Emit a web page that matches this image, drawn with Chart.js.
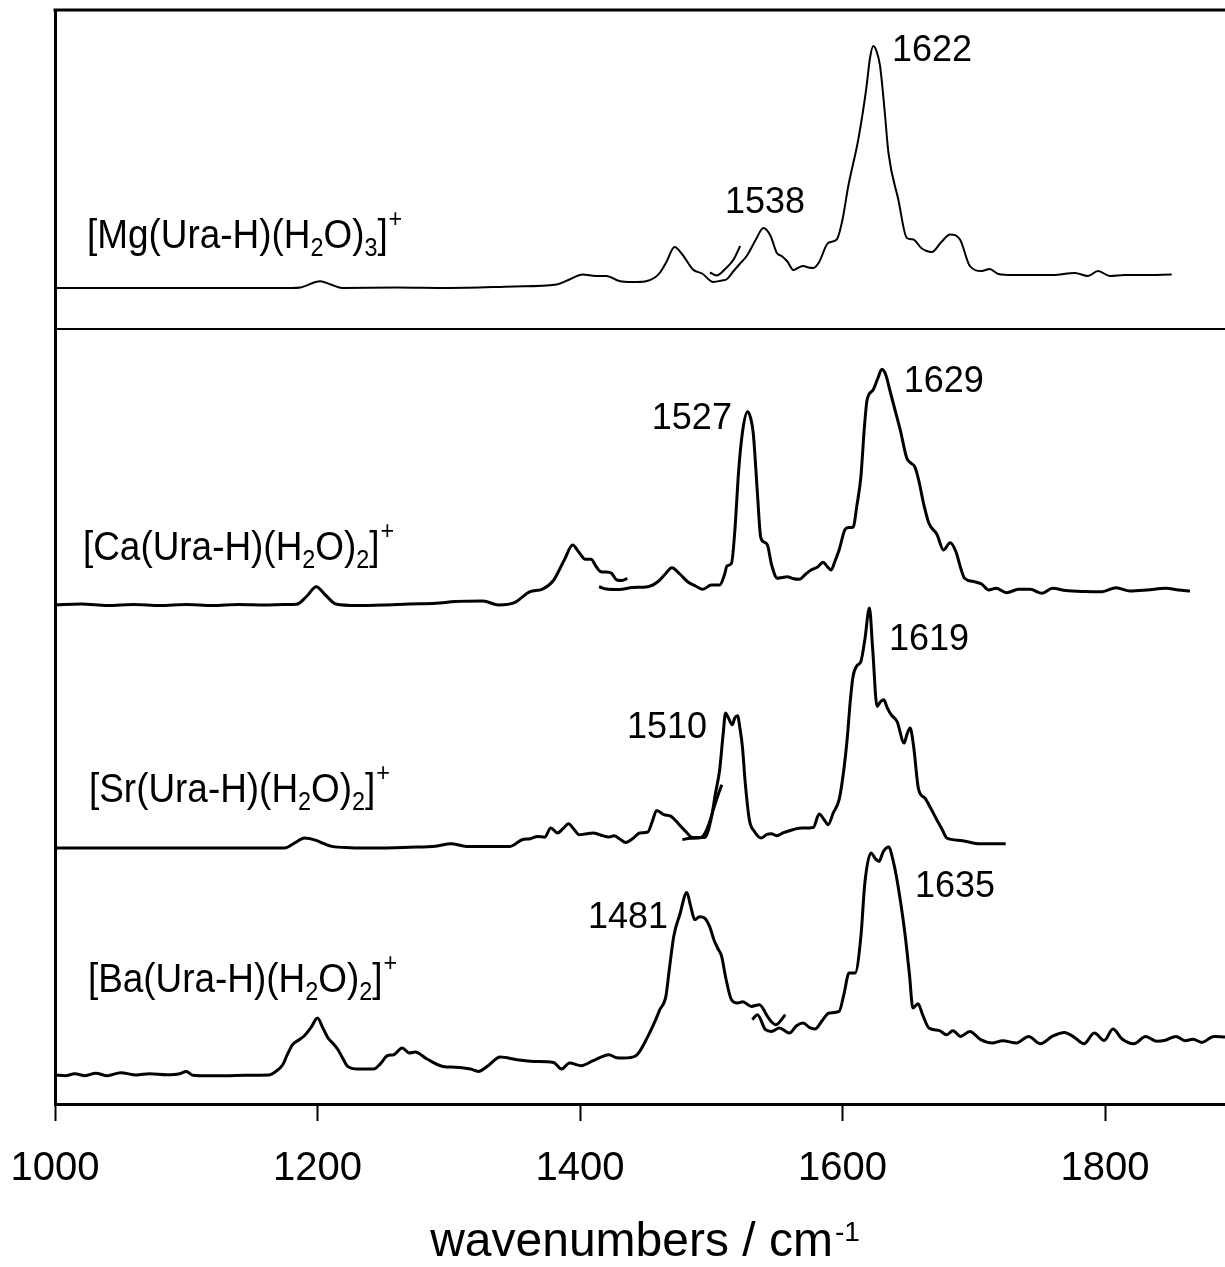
<!DOCTYPE html>
<html lang="en">
<head>
    <meta charset="UTF-8">
    <title>IRMPD spectra</title>
    <style>
        body {
            margin: 0;
            padding: 0;
            background-color: #fff;
        }
        .chart-box {
            width: 1225px;
            height: 1267px;
            position: relative;
        }
    </style>
</head>
<body>
    <div class="chart-box">
        <canvas id="spectra"></canvas>
    </div>
    <script src="https://cdn.jsdelivr.net/npm/chart.js@4.4.0/dist/chart.umd.min.js"></script>
    <script>
        // wavenumber (cm-1) and relative intensity
        const mgWn = [1000, 1100, 1180, 1187, 1202, 1210, 1219, 1260, 1300, 1350, 1382, 1392, 1402, 1412, 1420, 1430, 1440, 1449.5, 1457, 1461, 1466, 1472, 1478, 1486, 1493, 1501.6, 1508, 1512, 1517, 1522, 1527, 1534, 1539.7, 1545, 1550, 1553.6, 1558, 1562.5, 1566, 1570, 1574, 1577.7, 1582, 1589, 1595.6, 1600, 1604.4, 1612, 1618, 1621, 1623.5, 1626, 1628.6, 1632, 1635, 1642.5, 1649, 1654, 1660, 1668, 1675, 1682, 1689.5, 1697, 1706, 1712, 1718.7, 1730, 1745, 1760, 1777, 1787, 1794.6, 1803.8, 1815, 1830, 1850.8];
        const mgInt = [0, 0, 0, 0.5, 6.8, 3.5, 0, 0.5, 0, 1.5, 3.5, 8.5, 13.5, 12, 12, 7, 6, 6.5, 10.5, 15.5, 26.5, 41, 33.5, 18.5, 14.5, 6, 7.5, 9, 17, 24.5, 32, 48.5, 60, 52.5, 35, 32, 26.5, 18, 20, 22, 20.5, 20, 25.5, 45, 48.5, 68.5, 102, 148.5, 198.5, 230.5, 242, 236.5, 222, 178.5, 135, 88.5, 50, 48.5, 40, 36, 45.5, 53.5, 48.5, 22, 17, 19, 14, 13, 13, 13, 15, 12, 17, 12, 13, 13, 13.5];
        const mgWn2 = [1499, 1504, 1511, 1517, 1522];
        const mgInt2 = [15.5, 12.5, 19.5, 28.5, 42];

        const caWn = [1000, 1020, 1040, 1060, 1080, 1100, 1120, 1140, 1160, 1175, 1184, 1192, 1199, 1206, 1214, 1230, 1250, 1270, 1290, 1305, 1326, 1338, 1350, 1362, 1371, 1380, 1388, 1394.4, 1399, 1404, 1408.5, 1412, 1416, 1420, 1424, 1428, 1432, 1436];
        const caInt = [0, 1, -0.5, 0.5, -0.5, 0.5, -0.5, 0.5, 0, 0.5, 0.7, 9, 18.3, 10, 1, -0.5, 0, 1, 1.7, 3.5, 4, 0, 2.3, 13.3, 15.7, 25, 45, 60, 53, 45.7, 45.7, 39, 33.3, 33, 31.7, 25, 24.5, 26.7];
        const caWn2 = [1414.5, 1420, 1430, 1440, 1451.7, 1460, 1465, 1470, 1476, 1482, 1488, 1493.6, 1500, 1506.4, 1510, 1512, 1515.4, 1518, 1520.9, 1524, 1527.6, 1530, 1532, 1535, 1537.6, 1540, 1542.8, 1546, 1550.4, 1554, 1558, 1562, 1567, 1572, 1576, 1581, 1585.3, 1588, 1591.4, 1594, 1597.4, 1602, 1605, 1608, 1611, 1614, 1616.5, 1618.7, 1623.2, 1627, 1630, 1633, 1636, 1640, 1644, 1649, 1652, 1655, 1658, 1662, 1665.8, 1671.8, 1677, 1682, 1686.4, 1690, 1693, 1700.6, 1706, 1711.3, 1717, 1725, 1734, 1743, 1752, 1760, 1770, 1785, 1797.7, 1808.4, 1819, 1832, 1846.5, 1856, 1864.7];
        const caInt2 = [18.3, 16, 15.5, 17.5, 18.3, 24, 31, 37.3, 31, 23.3, 19, 15.7, 20, 20, 30, 39, 41.7, 75, 135, 175, 193.3, 187, 171.7, 115, 68.3, 63, 60, 40, 26.7, 27.5, 28.3, 26.5, 25.7, 31, 35, 38, 42.7, 39, 35, 43, 55, 75.7, 77.5, 77.7, 100, 128.3, 175, 205, 215, 227, 235.7, 230, 215, 195, 175, 146.7, 142, 138.3, 125, 100, 81.7, 71, 55, 62.3, 53.3, 37, 26.7, 23.3, 21, 15, 16.7, 12.3, 15.7, 15.7, 11.7, 16.7, 14.5, 13.5, 13.3, 17.3, 14, 15, 16.7, 15, 14];

        const srWn = [1000, 1100, 1175, 1183, 1190, 1199, 1205, 1211, 1225, 1244, 1270, 1290, 1301.6, 1313.6, 1330, 1346.7, 1355.8, 1362, 1367.8, 1373, 1377.8, 1382.9, 1387, 1391.3, 1395, 1399.5, 1405, 1410, 1416, 1422, 1426, 1430, 1435, 1440, 1445.7, 1451.7, 1455, 1458.4, 1463.8, 1469.3, 1475, 1480.5, 1485.7, 1495, 1500.3, 1503, 1506.4, 1509, 1510.9, 1513, 1516, 1518, 1520, 1522, 1523.7, 1526, 1529, 1533, 1538.2, 1542, 1545.8, 1550, 1555, 1559.5, 1568.6, 1577.7, 1582.2, 1586, 1589, 1593, 1597.4, 1601, 1603.5, 1606, 1608, 1611, 1614, 1617, 1620.5, 1623, 1626.3, 1629, 1631.5, 1634, 1637, 1641.5, 1647, 1649, 1651.5, 1654, 1658, 1662.7, 1667, 1671.8, 1676, 1679.4, 1690, 1703.7, 1724.3];
        const srInt = [0, 0, 0, 5.3, 10, 7.6, 4.3, 1.6, 0.3, 0, 0.8, 1.8, 4.3, 1.6, 1.6, 1.6, 8.3, 9.3, 11.6, 10.8, 20, 15, 19.3, 24.3, 19.3, 13.3, 14.3, 15, 12.8, 11, 12.3, 9.3, 5.6, 9.3, 15, 16, 26.3, 37.6, 33.3, 31.6, 24.3, 16.6, 10.6, 10.6, 31.6, 53.3, 78.3, 113.3, 135, 130.3, 123.3, 130.3, 132.3, 118.3, 101.6, 63.3, 28.3, 16.3, 10, 13.3, 14.3, 12.3, 15.3, 17.3, 20, 20.6, 34, 28.3, 23.3, 35.3, 48.3, 78.3, 108.3, 148.3, 171.6, 182.3, 186.6, 208.3, 240, 198.3, 141.6, 146.3, 148.3, 140.3, 133.3, 126.6, 105, 113.3, 120, 103.3, 58.3, 50, 40.3, 28.3, 18.3, 10, 7.6, 4.3, 4.3];
        const srWn2 = [1478, 1484, 1490, 1494, 1498, 1502, 1505, 1508];
        const srInt2 = [8.3, 9.8, 10, 12.3, 23.3, 40.3, 52.3, 63.3];

        const baWn = [1000, 1008, 1015, 1023, 1031, 1040, 1050, 1062, 1072, 1085, 1095, 1100, 1105, 1115, 1130, 1145, 1163, 1168, 1173.5, 1177, 1181, 1186, 1190, 1195, 1200, 1204, 1208, 1212, 1215.6, 1219, 1223, 1230.8, 1242.8, 1248, 1253.3, 1258, 1264.5, 1270, 1274.4, 1283.4, 1295.5, 1305, 1316.6, 1322.6, 1330, 1339.2, 1352, 1364.8, 1379.8, 1386, 1392, 1401, 1410, 1422, 1428, 1433.5, 1442.6, 1451.7, 1457, 1460.8, 1465.4, 1468, 1471.4, 1476, 1481.4, 1484, 1487.5, 1491, 1494.8, 1498.7, 1502, 1504.8, 1507.9, 1511, 1515.4, 1520, 1524, 1530.6, 1536.7, 1542.8, 1545.8, 1549, 1556.4];
        const baInt = [0, -0.7, 1.3, -0.7, 1.8, -0.7, 2.3, 0, 1.3, 0.3, 1.3, 3.6, -0.2, -0.7, -0.7, -0.2, 0, 3.3, 10.3, 20.3, 30.3, 35.3, 39.3, 47.3, 57, 47.3, 37, 31.3, 25.3, 17.3, 8.6, 6, 6, 11.3, 19.3, 20.3, 27, 22, 23, 16, 8.6, 7.8, 6, 3.6, 9.3, 18, 15.3, 13.6, 12.6, 6, 12, 9.3, 14.3, 20.3, 17.3, 17, 19.3, 38.6, 53.3, 65.3, 78.6, 105.3, 138.6, 160.3, 182.6, 170.3, 155.3, 158.3, 157, 148.6, 135.3, 127, 118.6, 97.3, 75.3, 72, 73.3, 68.6, 70.3, 58.6, 53.3, 50.3, 60.3];
        const baWn2 = [1531.2, 1535.2, 1541.3, 1545.8, 1552, 1559.5, 1565, 1570, 1575, 1579, 1585, 1589.8, 1597.4, 1601, 1605, 1609.6, 1614, 1617, 1621.7, 1625, 1627.8, 1631, 1635.4, 1638, 1641.5, 1647.5, 1651, 1653.6, 1657.5, 1661, 1665.8, 1673.4, 1679.4, 1684, 1690, 1697, 1705.2, 1714, 1722, 1732.6, 1741.7, 1750.8, 1760, 1769, 1777, 1784, 1791.8, 1799.4, 1806, 1813, 1822, 1831, 1839, 1846, 1854, 1861, 1867, 1873.7, 1883, 1891.4];
        const baInt2 = [55.3, 60.3, 45.3, 43.6, 47, 42, 49.3, 52, 47.3, 46, 55.3, 62, 63.6, 80.3, 102, 102, 138.6, 192, 222, 216.3, 213.6, 223.3, 228, 217.3, 195.3, 142, 100.3, 67, 71.3, 60.3, 47, 44.6, 40.3, 44.3, 38.6, 43.6, 35.3, 32, 34.3, 32, 38.6, 31.3, 38.8, 42.6, 37.3, 31.3, 42, 34.6, 46, 36, 31.3, 38.6, 33.8, 34.8, 38.6, 34.3, 35.8, 32.6, 38.6, 38];

        // vertical offsets of the stacked traces
        const offsets = { mg: 816, ca: 499, sr: 256, ba: 29 };
        const separatorLevel = 775;

        const xTicks = [1000, 1200, 1400, 1600, 1800];

        const peakLabels = [
            { text: '1622', x: 1637.7, y: 1043 },
            { text: '1538', x: 1510.5, y: 891 },
            { text: '1527', x: 1454.7, y: 674.7 },
            { text: '1629', x: 1646.6, y: 712.3 },
            { text: '1510', x: 1435.8, y: 365.7 },
            { text: '1619', x: 1635.4, y: 454 },
            { text: '1481', x: 1406.1, y: 175.7 },
            { text: '1635', x: 1655.2, y: 206.7 }
        ];

        const ionLabels = [
            { metal: 'Mg', water: '3', x: 1024.4, y: 856 },
            { metal: 'Ca', water: '2', x: 1021.3, y: 544 },
            { metal: 'Sr', water: '2', x: 1025.9, y: 302.3 },
            { metal: 'Ba', water: '2', x: 1025.1, y: 112.3 }
        ];

        const FONT = "'Liberation Sans', Arial, Helvetica, sans-serif";

        function trace(wn, inten, off, width) {
            return {
                data: wn.map((x, i) => ({ x: x, y: off + inten[i] })),
                showLine: true,
                borderColor: '#000',
                borderWidth: width,
                pointRadius: 0,
                cubicInterpolationMode: 'monotone',
                fill: false
            };
        }

        function drawIon(ctx, lbl, x, y) {
            const parts = [
                { t: '[' + lbl.metal + '(Ura-H)(H', k: 'n' },
                { t: '2', k: 'sub' },
                { t: 'O)', k: 'n' },
                { t: lbl.water, k: 'sub' },
                { t: ']', k: 'n' },
                { t: '+', k: 'sup' }
            ];
            ctx.save();
            ctx.translate(x, y);
            ctx.scale(0.9, 1);
            let cx = 0;
            parts.forEach(p => {
                if (p.k === 'n') {
                    ctx.font = '41px ' + FONT;
                    ctx.fillText(p.t, cx, 0);
                } else if (p.k === 'sub') {
                    ctx.font = '26px ' + FONT;
                    ctx.fillText(p.t, cx, 8);
                } else {
                    ctx.font = '26px ' + FONT;
                    ctx.fillText(p.t, cx + 1, -21);
                }
                cx += ctx.measureText(p.t).width;
            });
            ctx.restore();
        }

        const decorations = {
            id: 'decorations',
            afterDraw(chart) {
                const { ctx, chartArea: a, scales: { x, y } } = chart;
                ctx.save();
                ctx.strokeStyle = '#000';
                ctx.lineWidth = 3;
                ctx.beginPath();
                ctx.moveTo(a.left - 1.5, a.top);
                ctx.lineTo(a.right, a.top);
                ctx.stroke();

                ctx.lineWidth = 2;
                const sy = y.getPixelForValue(separatorLevel);
                ctx.beginPath();
                ctx.moveTo(a.left, sy);
                ctx.lineTo(a.right, sy);
                ctx.stroke();

                ctx.fillStyle = '#000';
                ctx.textBaseline = 'alphabetic';
                ctx.textAlign = 'left';
                ctx.font = '36px ' + FONT;
                peakLabels.forEach(p => {
                    ctx.fillText(p.text, x.getPixelForValue(p.x), y.getPixelForValue(p.y));
                });

                ionLabels.forEach(l => {
                    drawIon(ctx, l, x.getPixelForValue(l.x), y.getPixelForValue(l.y));
                });

                // axis title with superscript
                ctx.font = '48px ' + FONT;
                const main = 'wavenumbers / cm';
                const w1 = ctx.measureText(main).width;
                ctx.font = '28px ' + FONT;
                const w2 = ctx.measureText('-1').width;
                const cx = (a.left + a.right) / 2 + 4;
                const left = cx - (w1 + w2) / 2;
                ctx.font = '48px ' + FONT;
                ctx.fillText(main, left, 1256);
                ctx.font = '28px ' + FONT;
                ctx.fillText('-1', left + w1 + 2, 1241);
                ctx.restore();
            }
        };

        function createChart() {
            const ctx = document.getElementById('spectra').getContext('2d');
            new Chart(ctx, {
                type: 'scatter',
                data: {
                    datasets: [
                        trace(mgWn, mgInt, offsets.mg, 2),
                        trace(mgWn2, mgInt2, offsets.mg, 2),
                        trace(caWn, caInt, offsets.ca, 3),
                        trace(caWn2, caInt2, offsets.ca, 3),
                        trace(srWn, srInt, offsets.sr, 3),
                        trace(srWn2, srInt2, offsets.sr, 3),
                        trace(baWn, baInt, offsets.ba, 3),
                        trace(baWn2, baInt2, offsets.ba, 3)
                    ]
                },
                options: {
                    responsive: true,
                    maintainAspectRatio: false,
                    animation: false,
                    layout: { padding: { top: 10, right: 0, left: 0, bottom: 0 } },
                    plugins: {
                        legend: { display: false },
                        tooltip: { enabled: false }
                    },
                    scales: {
                        x: {
                            type: 'linear',
                            position: 'bottom',
                            min: 1000,
                            max: 1891.4,
                            afterFit(scale) {
                                scale.height = 163;
                                scale.paddingLeft = 0;
                                scale.paddingRight = 0;
                            },
                            afterBuildTicks(scale) {
                                scale.ticks = xTicks.map(v => ({ value: v }));
                            },
                            ticks: {
                                color: '#000',
                                font: { size: 40, family: FONT },
                                padding: 24,
                                maxRotation: 0,
                                autoSkip: false,
                                callback: v => String(v)
                            },
                            grid: {
                                display: true,
                                drawOnChartArea: false,
                                drawTicks: true,
                                tickLength: 17,
                                tickWidth: 2,
                                tickColor: '#000'
                            },
                            border: { display: true, color: '#000', width: 3 }
                        },
                        y: {
                            min: 0,
                            max: 1094,
                            afterFit(scale) { scale.width = 55; },
                            ticks: { display: false },
                            grid: { display: false },
                            border: { display: true, color: '#000', width: 3 }
                        }
                    }
                },
                plugins: [decorations]
            });
        }

        document.addEventListener('DOMContentLoaded', createChart);
    </script>
</body>
</html>
